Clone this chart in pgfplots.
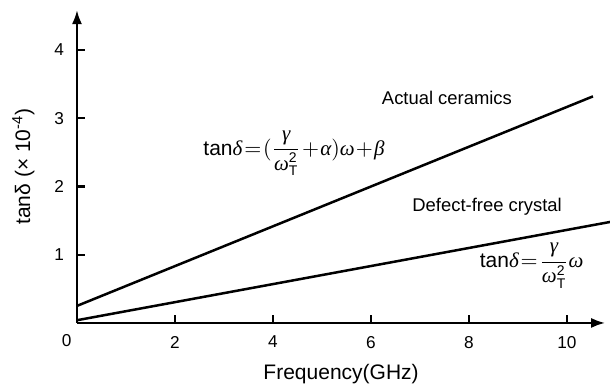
\documentclass[border=0pt]{standalone}
\usepackage{pgfplots}
\pgfplotsset{compat=1.18}
\usetikzlibrary{arrows.meta}
\usepackage{fontspec}
\setmainfont{Liberation Sans}
\newfontfamily\tms{Liberation Serif}
% italic serif Greek letters for the formulas
\newcommand{\gi}[1]{\mbox{\tms\itshape #1}}
\newcommand{\sml}[1]{\mbox{\fontsize{7}{8}\selectfont #1}}
% tight spacing around = and + in the formulas
\newcommand{\tight}{\thickmuskip=1.5mu\medmuskip=1mu}

\begin{document}
\begin{tikzpicture}
\begin{axis}[
  scale only axis,
  width=264pt, height=156.4pt,
  xmin=0, xmax=10.78, ymin=0, ymax=4.585,
  axis lines=left,
  axis line style={line width=1.2pt, -{Latex[length=7pt,width=5pt]}},
  xtick={2,4,6,8,10}, ytick={1,2,3,4},
  tick align=inside,
  major tick length=4pt,
  tick style={line width=1.1pt, black},
  ticklabel style={font=\fontsize{8.6}{10}\selectfont},
  /pgf/number format/assume math mode=true,
  xticklabel style={yshift=-3pt},
  yticklabel style={xshift=-3pt},
  xlabel={Frequency(GHz)},
  ylabel={tanδ (× 10\textsuperscript{-4})},
  label style={font=\fontsize{10.5}{12}\selectfont},
  xlabel style={yshift=-1pt},
  ylabel style={yshift=3pt},
  clip=false,
]
% loss tangent of a real ceramic: slope plus a frequency-independent offset
\addplot[black, line width=1.25pt] coordinates {(0,0.25) (10.53,3.32)};
% intrinsic loss of a defect-free crystal
\addplot[black, line width=1.25pt] coordinates {(0,0.04) (10.88,1.48)};

\node[font=\fontsize{8.6}{10}\selectfont] at (axis cs:-0.21,-0.255) {0};

\node[font=\fontsize{9.2}{11}\selectfont] at (axis cs:7.55,3.29) {Actual ceramics};
\node[font=\fontsize{9.2}{11}\selectfont] at (axis cs:8.37,1.70) {Defect-free crystal};
\node[font=\fontsize{10.5}{12}\selectfont] at (axis cs:4.43,2.49)
  {$\tight\mbox{tan}\gi{δ}=(\displaystyle\frac{\gi{γ}}{\gi{ω}^{\sml{2}}_{\sml{T}}}+\gi{α})\gi{ω}+\gi{β}$};
\node[font=\fontsize{10.5}{12}\selectfont] at (axis cs:9.28,0.84)
  {$\tight\mbox{tan}\gi{δ}=\displaystyle\frac{\gi{γ}}{\gi{ω}^{\sml{2}}_{\sml{T}}}\gi{ω}$};

\coordinate (bbl) at (axis cs:-1.571,-0.899);
\coordinate (btr) at (axis cs:10.878,4.732);
\end{axis}
\pgfresetboundingbox
\path[use as bounding box] (bbl) rectangle (btr);
\end{tikzpicture}
\end{document}
